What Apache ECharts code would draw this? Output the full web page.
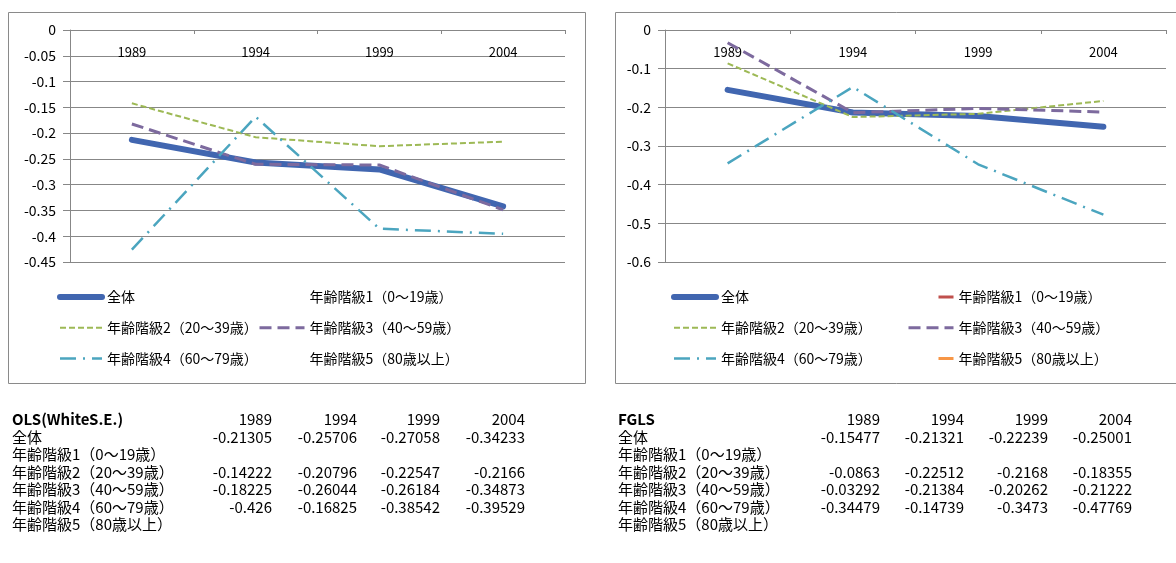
<!DOCTYPE html>
<html>
<head>
<meta charset="utf-8">
<script src="https://cdn.jsdelivr.net/npm/echarts@6/dist/echarts.min.js"></script>
<style>
  html, body { margin: 0; padding: 0; background: #fff; }
  #wrap { position: relative; width: 1176px; height: 563px; overflow: hidden; }
  #ols { position: absolute; left: 0; top: 0; width: 600px; height: 563px; }
  #fgls { position: absolute; left: 600px; top: 0; width: 576px; height: 563px; }
</style>
</head>
<body>
<div id="wrap"><div id="ols"></div><div id="fgls"></div></div>
<script>
// Survey years (category axis)
const years = ['1989', '1994', '1999', '2004'];

// Groups: whole sample and five age classes
const groups = ['全体', '年齢階級1（0～19歳）', '年齢階級2（20～39歳）', '年齢階級3（40～59歳）', '年齢階級4（60～79歳）', '年齢階級5（80歳以上）'];

// OLS (White S.E.) estimates
const olsAll  = [-0.21305, -0.25706, -0.27058, -0.34233];
const olsAge1 = [null, null, null, null];
const olsAge2 = [-0.14222, -0.20796, -0.22547, -0.2166];
const olsAge3 = [-0.18225, -0.26044, -0.26184, -0.34873];
const olsAge4 = [-0.426, -0.16825, -0.38542, -0.39529];
const olsAge5 = [null, null, null, null];

// FGLS estimates
const fglsAll  = [-0.15477, -0.21321, -0.22239, -0.25001];
const fglsAge1 = [null, null, null, null];
const fglsAge2 = [-0.0863, -0.22512, -0.2168, -0.18355];
const fglsAge3 = [-0.03292, -0.21384, -0.20262, -0.21222];
const fglsAge4 = [-0.34479, -0.14739, -0.3473, -0.47769];
const fglsAge5 = [null, null, null, null];

// Value-axis ranges
const olsAxis  = { min: -0.45, max: 0, interval: 0.05 };
const fglsAxis = { min: -0.6,  max: 0, interval: 0.1 };

const FONT = '"Noto Sans CJK JP", "Noto Sans", sans-serif';
const GRID_COLOR = '#878787';

// Line looks for each group
const lineLooks = [
  { color: '#4166B0', width: 6,   type: 'solid', cap: 'round', join: 'round' },
  { color: '#C0504D', width: 3,   type: [0, 30, 15] },
  { color: '#9DB955', width: 2,   type: [6, 3] },
  { color: '#7D6A9E', width: 3,   type: [12, 6] },
  { color: '#4BA5BF', width: 2.5, type: [16, 7, 2, 7] },
  { color: '#F79646', width: 3,   type: [0, 30, 15] }
];

function buildPanel(el, p) {
  const chart = echarts.init(el, null, { renderer: 'canvas' });
  const series = p.values.map((vals, i) => {
    const ls = Object.assign({}, lineLooks[i]);
    if (p.hiddenKeys.indexOf(i) >= 0) ls.color = 'rgba(0,0,0,0)';
    return {
      name: groups[i],
      type: 'line',
      data: vals,
      symbol: 'none',
      silent: true,
      connectNulls: false,
      lineStyle: ls,
      itemStyle: { color: ls.color },
      z: 2 + i
    };
  });

  const legendItem = (i) => ({
    name: groups[i],
    lineStyle: { width: lineLooks[i].width, cap: lineLooks[i].cap || 'butt' }
  });
  const legendBase = {
    orient: 'vertical',
    top: 290,
    padding: 0,
    itemHeight: 14,
    itemGap: 16.8,
    selectedMode: false,
    itemStyle: { opacity: 0 },
    textStyle: { fontSize: 14, color: '#000', fontFamily: FONT }
  };

  // Coefficient table below the chart box
  const tableTexts = [];
  const rowY = [419, 437, 454.5, 472, 489.5, 507, 524.5];
  const txt = (x, y, s, align, bold) => ({
    type: 'text', x: x, y: y, silent: true,
    style: { text: s, textAlign: align, textVerticalAlign: 'middle',
             font: (bold ? 'bold ' : '') + '15px ' + FONT, fill: '#000' }
  });
  tableTexts.push(txt(p.tableLeft, rowY[0], p.title, 'left', true));
  years.forEach((y, j) => tableTexts.push(txt(p.colRight[j], rowY[0], y, 'right')));
  groups.forEach((g, i) => {
    tableTexts.push(txt(p.tableLeft, rowY[i + 1], g, 'left'));
    p.values[i].forEach((v, j) => {
      if (v !== null) tableTexts.push(txt(p.colRight[j], rowY[i + 1], String(v), 'right'));
    });
  });

  chart.setOption({
    animation: false,
    grid: { left: p.grid.left, top: p.grid.top, width: p.grid.width, height: p.grid.height },
    xAxis: {
      type: 'category',
      data: years,
      position: 'top',
      boundaryGap: true,
      axisLine: { show: true, lineStyle: { color: GRID_COLOR, width: 1 } },
      axisTick: { show: true, inside: true, length: 4, lineStyle: { color: GRID_COLOR } },
      axisLabel: { inside: true, margin: 16, color: '#000', fontSize: 13, fontFamily: FONT },
      splitLine: { show: false }
    },
    yAxis: {
      type: 'value',
      min: p.axis.min, max: p.axis.max, interval: p.axis.interval,
      axisLine: { show: true, lineStyle: { color: GRID_COLOR, width: 1 } },
      axisTick: { show: true, length: 7, lineStyle: { color: GRID_COLOR } },
      axisLabel: { margin: 14, color: '#000', fontSize: 14, fontFamily: FONT },
      splitLine: { show: true, lineStyle: { color: GRID_COLOR, width: 1 } }
    },
    legend: [
      Object.assign({}, legendBase, { data: [0, 2, 4].map(legendItem), left: p.legendLeft[0], itemWidth: 42 }),
      Object.assign({}, legendBase, { data: [1, 3, 5].map(legendItem), left: p.legendLeft[1], itemWidth: 45 })
    ],
    series: series,
    graphic: [{
      type: 'rect', silent: true, z: -10,
      shape: p.box,
      style: { fill: 'none', stroke: '#8a8a8a', lineWidth: 1 }
    }].concat(tableTexts)
  });
  return chart;
}

buildPanel(document.getElementById('ols'), {
  title: 'OLS(WhiteS.E.)',
  values: [olsAll, olsAge1, olsAge2, olsAge3, olsAge4, olsAge5],
  axis: olsAxis,
  grid: { left: 70, top: 30, width: 495, height: 232 },
  box: { x: 8.5, y: 12.5, width: 577, height: 371 },
  legendLeft: [57, 258],
  hiddenKeys: [1, 5],
  tableLeft: 12,
  colRight: [272, 357, 440, 525]
});

buildPanel(document.getElementById('fgls'), {
  title: 'FGLS',
  values: [fglsAll, fglsAge1, fglsAge2, fglsAge3, fglsAge4, fglsAge5],
  axis: fglsAxis,
  grid: { left: 65, top: 30, width: 501, height: 232 },
  box: { x: 15.5, y: 12.5, width: 600, height: 371 },
  legendLeft: [71, 307],
  hiddenKeys: [],
  tableLeft: 18,
  colRight: [280, 364, 448, 532]
});
</script>
</body>
</html>
